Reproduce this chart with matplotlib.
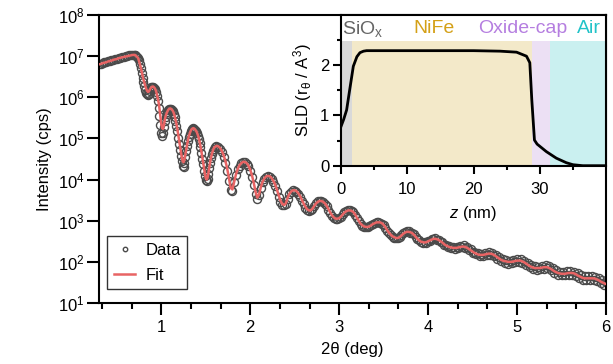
import numpy as np
import matplotlib
matplotlib.use("Agg")
import matplotlib.pyplot as plt
from matplotlib.ticker import MultipleLocator, LogLocator, NullLocator, FixedLocator

plt.rcParams['font.family'] = ['Liberation Sans', 'DejaVu Sans']
plt.rcParams['mathtext.default'] = 'regular'
plt.rcParams['mathtext.fontset'] = 'custom'
plt.rcParams['mathtext.rm'] = 'Liberation Sans'
plt.rcParams['mathtext.it'] = 'Liberation Sans:italic'

# ---------------- reflectivity: log10(intensity) on three 2theta segments
# segment 1: 2theta = 0.30 .. 0.68, step 0.02
seg1_start, seg1_step = 0.30, 0.02
fit_seg1 = [6.80, 6.81, 6.83, 6.84, 6.85, 6.87, 6.88, 6.89, 6.91, 6.92,
            6.93, 6.95, 6.96, 6.97, 6.98, 6.99, 7.00, 7.01, 7.02, 7.03]
data_seg1 = [6.81, 6.82, 6.83, 6.85, 6.86, 6.87, 6.89, 6.90, 6.91, 6.93,
             6.94, 6.95, 6.96, 6.98, 6.99, 7.00, 7.01, 7.02, 7.02, 7.03]

# segment 2: 2theta = 0.70 .. 1.59, step 0.01
seg2_start, seg2_step = 0.70, 0.01
fit_seg2 = [
    7.03, 7.02, 7.00, 6.98, 6.95, 6.88, 6.80, 6.72, 6.62, 6.52,
    6.43, 6.35, 6.28, 6.21, 6.16, 6.13, 6.14, 6.18, 6.22, 6.25,
    6.26, 6.26, 6.24, 6.21, 6.16, 6.08, 5.98, 5.88, 5.72, 5.53,
    5.35, 5.25, 5.23, 5.33, 5.45, 5.55, 5.61, 5.66, 5.70, 5.72,
    5.73, 5.72, 5.70, 5.67, 5.62, 5.55, 5.46, 5.36, 5.24, 5.10,
    4.96, 4.82, 4.68, 4.55, 4.45, 4.42, 4.48, 4.60, 4.72, 4.84,
    4.96, 5.05, 5.12, 5.18, 5.22, 5.24, 5.25, 5.24, 5.22, 5.19,
    5.15, 5.09, 5.02, 4.93, 4.82, 4.70, 4.57, 4.43, 4.29, 4.15,
    4.04, 4.00, 4.04, 4.16, 4.30, 4.43, 4.54, 4.63, 4.70, 4.76,
]
data_seg2 = [
    7.03, 7.03, 7.01, 6.99, 6.96, 6.90, 6.82, 6.72, 6.60, 6.48,
    6.37, 6.27, 6.18, 6.11, 6.07, 6.06, 6.09, 6.15, 6.20, 6.24,
    6.25, 6.25, 6.23, 6.19, 6.12, 6.02, 5.90, 5.75, 5.55, 5.33,
    5.13, 5.05, 5.12, 5.28, 5.42, 5.53, 5.60, 5.65, 5.69, 5.71,
    5.72, 5.72, 5.70, 5.66, 5.60, 5.52, 5.42, 5.30, 5.17, 5.02,
    4.87, 4.72, 4.57, 4.44, 4.34, 4.31, 4.40, 4.55, 4.69, 4.82,
    4.94, 5.04, 5.11, 5.17, 5.21, 5.24, 5.25, 5.24, 5.21, 5.17,
    5.12, 5.06, 4.98, 4.89, 4.78, 4.65, 4.51, 4.37, 4.22, 4.08,
    3.98, 3.96, 4.02, 4.14, 4.28, 4.41, 4.52, 4.61, 4.69, 4.75,
]

# segment 3: 2theta = 1.60 .. 6.00, step 0.02
seg3_start, seg3_step = 1.60, 0.02
fit_seg3 = [
    4.79, 4.82, 4.81, 4.77, 4.70, 4.60, 4.46, 4.28, 4.05, 3.80,
    3.76, 3.95, 4.13, 4.26, 4.35, 4.40, 4.43, 4.43, 4.40, 4.34,
    4.24, 4.10, 3.92, 3.70, 3.56, 3.64, 3.82, 3.95, 4.03, 4.08,
    4.09, 4.08, 4.04, 3.97, 3.88, 3.76, 3.62, 3.49, 3.41, 3.38,
    3.42, 3.55, 3.65, 3.71, 3.74, 3.74, 3.72, 3.67, 3.60, 3.51,
    3.42, 3.34, 3.28, 3.25, 3.25, 3.29, 3.36, 3.42, 3.46, 3.48,
    3.48, 3.46, 3.42, 3.36, 3.28, 3.20, 3.13, 3.08, 3.05, 3.05,
    3.06, 3.10, 3.15, 3.20, 3.23, 3.25, 3.25, 3.24, 3.21, 3.15,
    3.07, 3.00, 2.93, 2.89, 2.86, 2.85, 2.85, 2.86, 2.89, 2.92,
    2.94, 2.96, 2.96, 2.96, 2.94, 2.90, 2.84, 2.77, 2.71, 2.66,
    2.62, 2.60, 2.58, 2.58, 2.60, 2.64, 2.68, 2.71, 2.73, 2.73,
    2.72, 2.70, 2.66, 2.61, 2.56, 2.52, 2.49, 2.48, 2.47, 2.48,
    2.50, 2.52, 2.54, 2.56, 2.56, 2.55, 2.53, 2.50, 2.47, 2.43,
    2.40, 2.38, 2.36, 2.35, 2.34, 2.34, 2.34, 2.35, 2.36, 2.37,
    2.37, 2.36, 2.34, 2.31, 2.28, 2.25, 2.22, 2.20, 2.18, 2.17,
    2.17, 2.17, 2.18, 2.19, 2.20, 2.20, 2.19, 2.17, 2.14, 2.11,
    2.08, 2.05, 2.03, 2.02, 2.01, 2.00, 2.00, 2.00, 2.01, 2.02,
    2.03, 2.03, 2.03, 2.01, 1.99, 1.96, 1.93, 1.90, 1.88, 1.86,
    1.85, 1.85, 1.85, 1.85, 1.86, 1.87, 1.87, 1.87, 1.85, 1.83,
    1.80, 1.77, 1.75, 1.73, 1.72, 1.71, 1.71, 1.71, 1.72, 1.73,
    1.73, 1.73, 1.72, 1.70, 1.67, 1.65, 1.63, 1.61, 1.60, 1.60,
    1.60, 1.60, 1.60, 1.60, 1.59, 1.57, 1.55, 1.52, 1.50, 1.48,
    1.46,
]
data_seg3 = [
    4.78, 4.81, 4.80, 4.75, 4.67, 4.56, 4.41, 4.21, 3.97, 3.74,
    3.73, 3.93, 4.12, 4.25, 4.34, 4.40, 4.43, 4.43, 4.39, 4.32,
    4.21, 4.06, 3.86, 3.64, 3.53, 3.62, 3.80, 3.94, 4.02, 4.07,
    4.09, 4.07, 4.02, 3.95, 3.85, 3.72, 3.58, 3.46, 3.39, 3.37,
    3.41, 3.53, 3.64, 3.71, 3.74, 3.73, 3.71, 3.66, 3.58, 3.49,
    3.40, 3.32, 3.27, 3.24, 3.25, 3.29, 3.36, 3.43, 3.47, 3.49,
    3.48, 3.45, 3.41, 3.35, 3.27, 3.19, 3.12, 3.07, 3.04, 3.04,
    3.06, 3.10, 3.16, 3.21, 3.24, 3.26, 3.25, 3.23, 3.20, 3.14,
    3.06, 2.99, 2.92, 2.88, 2.85, 2.84, 2.85, 2.87, 2.90, 2.93,
    2.95, 2.97, 2.97, 2.95, 2.93, 2.89, 2.83, 2.76, 2.70, 2.65,
    2.61, 2.59, 2.57, 2.58, 2.61, 2.65, 2.69, 2.72, 2.75, 2.74,
    2.71, 2.69, 2.67, 2.60, 2.55, 2.53, 2.48, 2.46, 2.48, 2.47,
    2.51, 2.51, 2.56, 2.55, 2.58, 2.54, 2.54, 2.48, 2.48, 2.41,
    2.41, 2.36, 2.38, 2.33, 2.36, 2.32, 2.36, 2.33, 2.39, 2.35,
    2.40, 2.34, 2.37, 2.29, 2.31, 2.22, 2.25, 2.19, 2.21, 2.14,
    2.20, 2.15, 2.21, 2.17, 2.24, 2.17, 2.22, 2.15, 2.16, 2.08,
    2.11, 2.03, 2.07, 1.98, 2.05, 1.96, 2.03, 1.97, 2.05, 1.99,
    2.07, 2.00, 2.06, 1.97, 2.02, 1.93, 1.97, 1.87, 1.92, 1.83,
    1.89, 1.81, 1.88, 1.82, 1.91, 1.83, 1.92, 1.84, 1.89, 1.79,
    1.84, 1.73, 1.80, 1.69, 1.76, 1.67, 1.75, 1.67, 1.77, 1.69,
    1.78, 1.69, 1.76, 1.66, 1.72, 1.61, 1.68, 1.57, 1.65, 1.56,
    1.65, 1.56, 1.66, 1.56, 1.63, 1.53, 1.60, 1.48, 1.55, 1.44,
    1.50,
]

# ---------------- SLD depth profile
z_nm = [0, 0.4, 0.85, 1.3, 1.86, 2.4, 2.86, 3.4, 3.87, 10, 20, 24, 26.5,
        28.0, 28.5, 28.8, 29.2, 29.6, 31.0, 32.5, 34.0, 35.0, 36.5, 40]
sld = [0.78, 0.92, 1.11, 1.50, 1.98, 2.17, 2.25, 2.28, 2.29, 2.29, 2.29, 2.28, 2.26,
       2.18, 2.05, 1.31, 0.51, 0.43, 0.28, 0.15, 0.06, 0.02, 0.0, 0.0]

layer_names = ["SiO$_x$", "NiFe", "Oxide-cap", "Air"]
layer_edges = [0, 1.6, 28.9, 31.6, 40]
layer_fill = ["#d9d9d9", "#f3e9c9", "#ece0f4", "#caf0f0"]
layer_text = ["#666666", "#d4a017", "#b57ee0", "#22c3c8"]
layer_label_x = [0.2, 14.0, 27.4, 37.5]
layer_label_ha = ["left", "center", "center", "center"]


def seg_x(start, step, vals):
    return start + step * np.arange(len(vals))


tt_fit = np.concatenate([seg_x(seg1_start, seg1_step, fit_seg1),
                         seg_x(seg2_start, seg2_step, fit_seg2),
                         seg_x(seg3_start, seg3_step, fit_seg3)])
I_fit = 10 ** np.array(fit_seg1 + fit_seg2 + fit_seg3)
tt_data = np.concatenate([seg_x(seg1_start, seg1_step, data_seg1),
                          seg_x(seg2_start, seg2_step, data_seg2),
                          seg_x(seg3_start, seg3_step, data_seg3)])
I_data = 10 ** np.array(data_seg1 + data_seg2 + data_seg3)

fig = plt.figure(figsize=(6.13, 3.64), dpi=100)
ax = fig.add_axes([99/613, 1 - 303/364, (606-99)/613, (303-15)/364])

ax.plot(tt_data, I_data, 'o', mfc='none', mec='#4a4a4a', mew=1.0, ms=5.8,
        label='Data', zorder=2)
ax.plot(tt_fit, I_fit, '-', color='#e86464', lw=1.8, label='Fit', zorder=3)
ax.set_yscale('log')
ax.set_xlim(0.3, 6.0)
ax.set_ylim(10, 1e8)
ax.yaxis.set_major_locator(LogLocator(base=10, numticks=10))
ax.yaxis.set_minor_locator(NullLocator())
ax.xaxis.set_major_locator(MultipleLocator(1))
ax.xaxis.set_minor_locator(FixedLocator(np.arange(1, 19) / 3))
ax.tick_params(which='major', direction='out', length=8.5, width=1.5, labelsize=12)
ax.tick_params(axis='x', which='major', pad=4)
ax.tick_params(axis='y', which='major', pad=2)
ax.tick_params(which='minor', direction='out', length=4.5, width=1.5)
for s in ax.spines.values():
    s.set_linewidth(1.5)
ax.set_xlabel('2θ (deg)', fontsize=12, labelpad=5)
ax.set_ylabel('Intensity (cps)', fontsize=12, labelpad=4)
leg = ax.legend(loc='lower left', bbox_to_anchor=(0.006, 0.03), fontsize=12,
                frameon=True, fancybox=False, edgecolor='black', handlelength=1.3,
                handletextpad=0.6, borderpad=0.4, labelspacing=0.6, markerscale=0.55,
                borderaxespad=0.3)
leg.get_frame().set_linewidth(1.0)

# inset
ins = fig.add_axes([341/613, 1 - 165.7/364, (606-341)/613, (165.7-15)/364])
for i in range(4):
    ins.fill_between([layer_edges[i], layer_edges[i+1]], 0, 2.48,
                     color=layer_fill[i], lw=0, zorder=0)
    ins.text(layer_label_x[i], 2.73, layer_names[i], color=layer_text[i],
             ha=layer_label_ha[i], va='center', fontsize=14)
ins.plot(z_nm, sld, color='black', lw=2, zorder=3)
ins.set_xlim(0, 40)
ins.set_ylim(0, 3.0)
ins.set_xticks([0, 10, 20, 30])
ins.xaxis.set_minor_locator(FixedLocator([5, 15, 25, 35]))
ins.set_yticks([0, 1, 2])
ins.yaxis.set_minor_locator(FixedLocator([0.5, 1.5, 2.5]))
ins.tick_params(which='major', direction='out', length=5.5, width=1.5, labelsize=12, pad=3)
ins.tick_params(axis='x', which='major', pad=6)
ins.tick_params(which='minor', direction='out', length=3, width=1.5)
for s in ins.spines.values():
    s.set_linewidth(1.5)
ins.set_xlabel('$\\mathit{z}$ (nm)', fontsize=12, labelpad=5)
ins.set_ylabel('SLD (r$_θ$ / A$^3$)', fontsize=12, labelpad=4)

fig.savefig('out.png', dpi=100)
